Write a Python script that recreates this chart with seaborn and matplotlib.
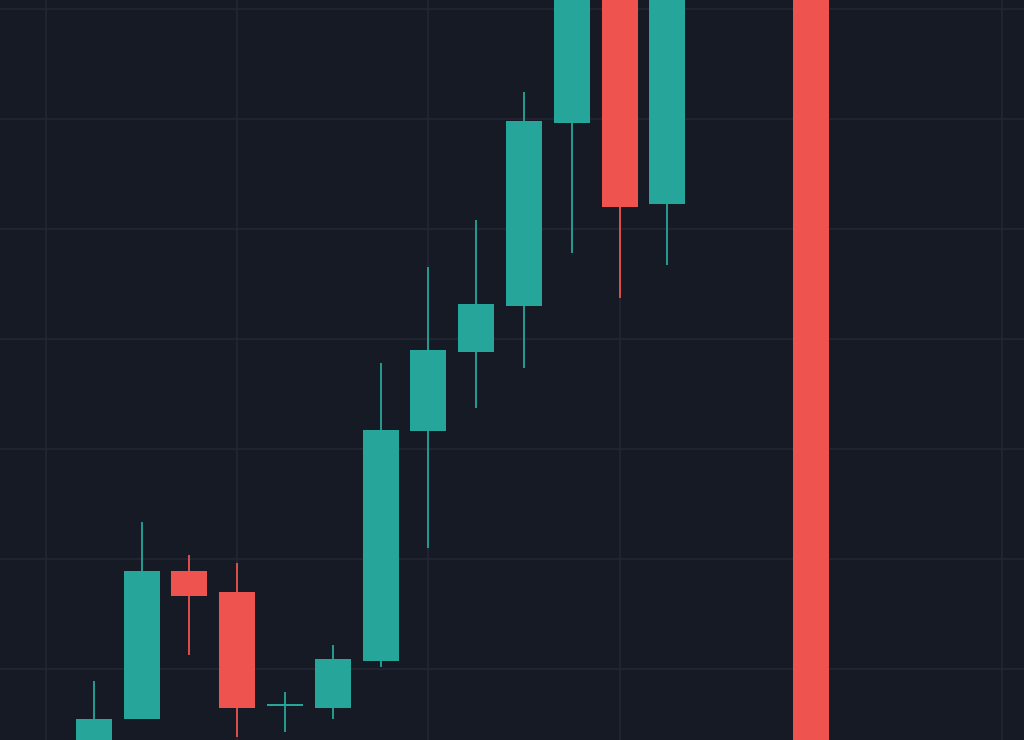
import matplotlib
matplotlib.use("Agg")
import matplotlib.pyplot as plt
import numpy as np
import seaborn as sb

# candle data (index = bar number, prices)
idx = list(range(16))
opens = [91.7, 95.45, 108.9, 107.0, 96.6, 96.5, 100.7, 121.6, 128.8, 133.0, 149.6, 164.5, 142.3, 175.0, 186.0, 200.0]
closes = [95.5, 108.9, 106.6, 96.5, 96.6, 100.9, 121.7, 129.0, 133.2, 149.8, 166.3, 142.0, 163.5, 185.0, 195.0, 85.0]
highs = [98.9, 113.4, 110.4, 109.6, 97.9, 102.2, 127.8, 136.5, 140.8, 152.4, 170.0, 168.0, 167.0, 190.0, 198.0, 205.0]
lows = [90.0, 95.45, 101.3, 93.8, 94.3, 95.5, 100.2, 111.0, 123.7, 127.4, 137.8, 133.7, 136.7, 170.0, 182.0, 82.0]

up_col = "#26a69a"
down_col = "#ef5350"
bg = "#161a25"

sb.set_theme(style="darkgrid", rc={
    "axes.facecolor": bg,
    "figure.facecolor": bg,
    "grid.color": "#242834",
    "grid.linewidth": 1.1,
    "axes.edgecolor": bg,
})

fig = plt.figure(figsize=(10.24, 7.4), dpi=100)
ax = fig.add_axes([0, 0, 1, 1])

o = np.array(opens)
c = np.array(closes)
cols = [up_col if cc >= oo else down_col for oo, cc in zip(o, c)]
body_lo = np.minimum(o, c)
body_h = np.maximum(np.abs(c - o), 0.2)

# wicks
ax.vlines(idx, lows, highs, colors=cols, linewidth=1.3, zorder=2)
# bodies
ax.bar(idx, body_h, bottom=body_lo, width=0.75, color=cols, linewidth=0, zorder=3)

ax.set_xlim(-1.962, 19.46)
ax.set_ylim(93.55, 160.8)
ax.set_xticks([-1, 3, 7, 11, 15, 19])
ax.set_yticks([100, 110, 120, 130, 140, 150, 160])
ax.tick_params(length=0, labelbottom=False, labelleft=False)
ax.grid(True, zorder=0)
ax.set_axisbelow(True)
for s in ax.spines.values():
    s.set_visible(False)

plt.savefig("out.png", dpi=100, facecolor=bg)
